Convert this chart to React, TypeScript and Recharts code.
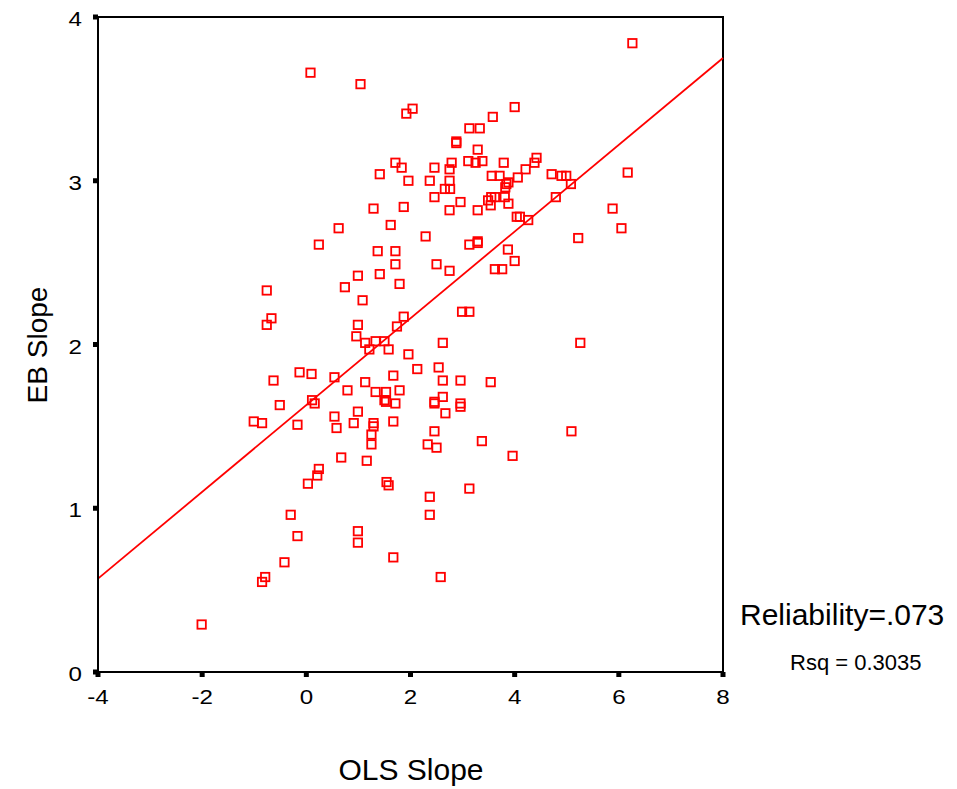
import {
  ReferenceArea,
  ReferenceLine,
  Scatter,
  ScatterChart,
  XAxis,
  YAxis,
} from "recharts";

// OLS slope (x) and EB slope (y) per unit
const olsSlope = [
  6.26, 0.08, 1.04, 1.92, 2.04, 4.0, 3.58, 3.13, 3.33, 2.88, 2.88, 3.29, 1.71,
  1.83, 2.46, 2.79, 2.75, 3.11, 3.25, 3.38, 3.79, 1.41, 1.96, 2.37, 2.75, 2.66,
  2.76, 3.56, 3.71, 3.88, 3.84, 3.82, 4.06, 2.46, 2.96, 3.49, 3.55, 3.62, 3.54,
  3.81, 3.88, 1.29, 1.87, 2.75, 3.29, 4.04, 0.62, 1.62, 2.29, 3.29, 4.42, 4.38,
  4.21, 4.71, 4.9, 4.99, 5.08, 6.17, 4.79, 5.88, 4.1, 4.26, 6.05, 5.22, -0.76,
  -0.67, -0.76, -0.63, -0.13, 0.1, -0.51, -1.01, -0.85, -0.17, 0.24, 3.13, 3.29,
  1.37, 1.71, 1.71, 2.5, 2.75, 3.87, 4.0, 3.62, 3.76, 0.99, 1.41, 0.74, 1.79,
  1.08, 2.99, 3.13, 1.87, 1.74, 0.99, 0.96, 1.13, 1.33, 1.5, 1.21, 1.58, 2.62,
  1.96, 2.13, 2.54, 0.54, 1.13, 1.67, 2.62, 2.96, 3.54, 0.79, 1.33, 1.53, 1.79,
  1.5, 1.53, 1.71, 0.11, 0.16, 2.46, 2.46, 2.62, 2.96, 2.96, 2.67, 0.54, 0.58,
  0.99, 0.91, 1.29, 1.29, 1.25, 1.25, 1.67, 2.46, 2.33, 2.5, 3.37, 3.96, 0.67,
  1.16, 5.26, 5.09, 0.03, -0.3, -0.17, -0.42, -0.79, -0.85, -2.01, 0.21, 0.24,
  1.54, 1.58, 2.37, 2.37, 3.13, 0.99, 0.99, 1.67, 2.58,
];
const ebSlope = [
  3.84, 3.66, 3.59, 3.41, 3.44, 3.45, 3.39, 3.32, 3.32, 3.24, 3.23, 3.19, 3.11,
  3.08, 3.08, 3.11, 3.07, 3.12, 3.11, 3.12, 3.11, 3.04, 3.0, 3.0, 3.0, 2.95,
  2.95, 3.03, 3.03, 2.99, 2.98, 2.96, 3.02, 2.9, 2.87, 2.88, 2.9, 2.9, 2.85, 2.9,
  2.86, 2.83, 2.84, 2.82, 2.82, 2.78, 2.71, 2.73, 2.66, 2.63, 3.14, 3.11, 3.07,
  3.04, 3.03, 3.03, 2.98, 3.05, 2.9, 2.83, 2.78, 2.76, 2.71, 2.65, 2.33, 2.16,
  2.12, 1.78, 1.83, 1.82, 1.63, 1.53, 1.52, 1.51, 2.61, 2.61, 2.62, 2.57, 2.57,
  2.49, 2.49, 2.45, 2.58, 2.51, 2.46, 2.46, 2.42, 2.43, 2.35, 2.37, 2.27, 2.2,
  2.2, 2.17, 2.11, 2.12, 2.05, 2.01, 2.02, 2.02, 1.97, 1.97, 2.01, 1.94, 1.85,
  1.86, 1.8, 1.77, 1.81, 1.78, 1.78, 1.77, 1.72, 1.71, 1.71, 1.72, 1.66, 1.65,
  1.64, 1.66, 1.64, 1.65, 1.64, 1.68, 1.64, 1.62, 1.58, 1.56, 1.49, 1.59, 1.52,
  1.52, 1.5, 1.45, 1.39, 1.53, 1.47, 1.39, 1.37, 1.41, 1.32, 1.31, 1.29, 2.01,
  1.47, 1.15, 0.96, 0.83, 0.67, 0.58, 0.55, 0.29, 1.2, 1.24, 1.16, 1.14, 1.07,
  0.96, 1.12, 0.86, 0.79, 0.7, 0.58,
];

// fit line end points at the edges of the x range
const fitX = [-4, 8];
const fitY = [0.57, 3.75];

const xTicks = [-4, -2, 0, 2, 4, 6, 8];
const yTicks = [0, 1, 2, 3, 4];

const points = olsSlope.map((x, i) => ({ x, y: ebSlope[i] }));

const RED = "#ff0000";
const FONT = "'Liberation Sans', Arial, sans-serif";

function OpenSquare(props: any) {
  const { cx, cy } = props;
  return (
    <rect
      x={cx - 4.2}
      y={cy - 4.2}
      width={8.4}
      height={8.4}
      fill="none"
      stroke={RED}
      strokeWidth={1.8}
    />
  );
}

// the source glyphs are a little wider than plain Arial, so stretch them
const renderXTick = (props: any) => (
  <text
    key={`x-${props.payload.value}`}
    transform={`translate(${props.x},${props.y + 27}) scale(1.15,1)`}
    textAnchor="middle"
    fontSize={21}
    fontFamily={FONT}
    fill="#000"
  >
    {props.payload.value}
  </text>
);

const renderYTick = (props: any) => (
  <text
    key={`y-${props.payload.value}`}
    transform={`translate(${props.x},${props.y + 9}) scale(1.15,1)`}
    textAnchor="end"
    fontSize={21}
    fontFamily={FONT}
    fill="#000"
  >
    {props.payload.value}
  </text>
);

export default function App() {
  return (
    <div style={{ position: "absolute", left: 0, top: 0, width: 957, height: 789, background: "#fff" }}>
      <ScatterChart
        width={957}
        height={789}
        margin={{ top: 17, right: 234, bottom: 87, left: 0 }}
      >
        <XAxis
          type="number"
          dataKey="x"
          domain={[-4, 8]}
          ticks={xTicks}
          allowDataOverflow
          height={30}
          tickSize={5}
          tickMargin={0}
          axisLine={{ stroke: "#000", strokeWidth: 2 }}
          tickLine={{ stroke: "#000", strokeWidth: 5 }}
          tick={renderXTick}
        />
        <YAxis
          type="number"
          dataKey="y"
          domain={[0, 4]}
          ticks={yTicks}
          allowDataOverflow
          width={98}
          tickSize={5}
          tickMargin={11}
          axisLine={{ stroke: "#000", strokeWidth: 2 }}
          tickLine={{ stroke: "#000", strokeWidth: 5 }}
          tick={renderYTick}
        />
        <ReferenceArea
          x1={-4}
          x2={8}
          y1={0}
          y2={4}
          fill="none"
          stroke="#000"
          strokeWidth={2}
        />
        <ReferenceLine
          segment={[
            { x: fitX[0], y: fitY[0] },
            { x: fitX[1], y: fitY[1] },
          ]}
          stroke={RED}
          strokeWidth={1.8}
        />
        <Scatter data={points} shape={<OpenSquare />} isAnimationActive={false} />
      </ScatterChart>
      <svg
        width={957}
        height={789}
        style={{ position: "absolute", left: 0, top: 0, pointerEvents: "none" }}
        fontFamily={FONT}
      >
        <text x={411} y={780} textAnchor="middle" fontSize={30}>
          OLS Slope
        </text>
        <text transform="translate(47,345) rotate(-90)" textAnchor="middle" fontSize={28}>
          EB Slope
        </text>
        <text x={740} y={625} fontSize={30}>
          Reliability=.073
        </text>
        <text x={790} y={670} fontSize={22}>
          Rsq = 0.3035
        </text>
      </svg>
    </div>
  );
}
